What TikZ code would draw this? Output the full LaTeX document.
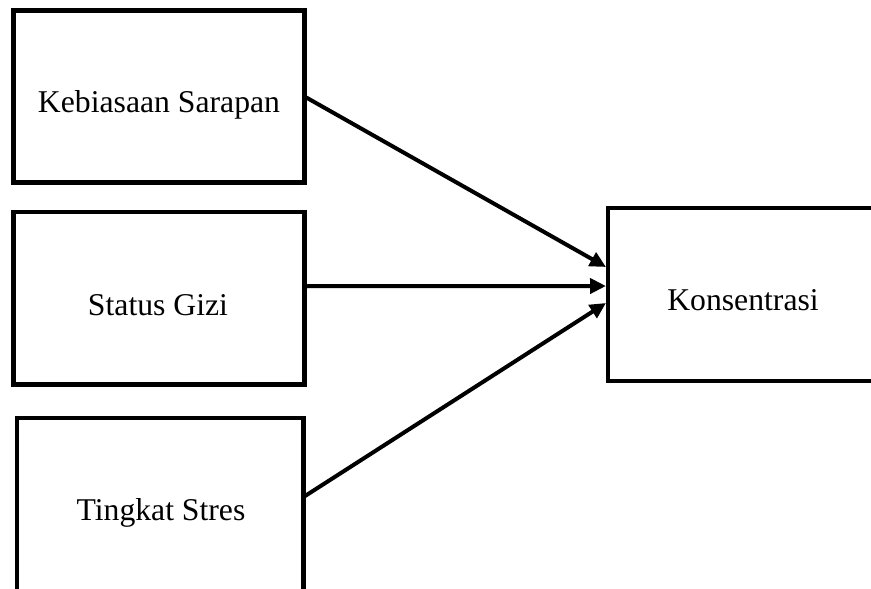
\documentclass[tikz,border=0pt]{standalone}
\usepackage{fontspec}
\setmainfont{Liberation Serif}
\usetikzlibrary{arrows.meta}
\begin{document}
\begin{tikzpicture}[x=1pt,y=-1pt,
  box/.style={draw=black,line width=4.2pt,fill=white,rectangle,inner sep=0pt,outer sep=0pt},
  lbl/.style={anchor=base,inner sep=0pt,font=\fontsize{31.7}{38}\selectfont},
  conn/.style={line width=4pt,-{Triangle[length=16pt,width=15pt]}}]
\useasboundingbox (0,0) rectangle (871,589);
\clip (0,0) rectangle (871,589);
\fill[white] (0,0) rectangle (871,589);
\node[box,minimum width=291pt,minimum height=172pt] (b1) at (159,96.5) {};
\node[box,minimum width=291pt,minimum height=172.5pt] (b2) at (159,298.25) {};
\node[box,minimum width=286.5pt,minimum height=200pt] (b3) at (160.25,518) {};
\node[box,minimum width=292pt,minimum height=173pt] (b4) at (754,294.5) {};
\node[lbl] (t1) at (159,112) {Kebiasaan Sarapan};
\node[lbl] (t2) at (158,315) {Status Gizi};
\node[lbl] (t3) at (161,520) {Tingkat Stres};
\node[lbl] (t4) at (743,310) {Konsentrasi};
\coordinate (s1) at (b1.east);
\coordinate (s2) at ([yshift=12pt]b2.east);
\coordinate (s3) at ([yshift=21pt]b3.east);
\coordinate (e1) at ([yshift=27.5pt]b4.west);
\coordinate (e2) at ([yshift=8.5pt]b4.west);
\coordinate (e3) at ([yshift=-8.5pt]b4.west);
\draw[conn] (s1) -- ([xshift=-2pt]e1);
\draw[conn] (s2) -- ([xshift=-2pt]e2);
\draw[conn] (s3) -- ([xshift=-2pt]e3);
\end{tikzpicture}
\end{document}
